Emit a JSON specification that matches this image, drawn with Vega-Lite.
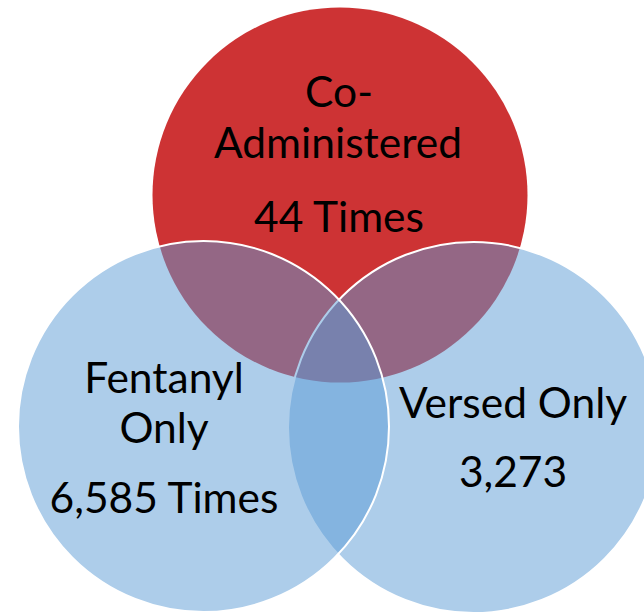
{
  "$schema": "https://vega.github.io/schema/vega-lite/v6.json",
  "width": 644,
  "height": 613,
  "autosize": "none",
  "padding": 0,
  "background": "white",
  "config": {"view": {"stroke": null}},
  "datasets": {
    "sets": [
      {"set": "Co-Administered", "cx": 340, "cy": 195, "r": 187.5},
      {"set": "Versed Only", "cx": 473.5, "cy": 427.5, "r": 185.5},
      {"set": "Fentanyl Only", "cx": 203.5, "cy": 426.5, "r": 185.5}
    ],
    "labels": [
      {"line": "Co-", "lx": 339, "ly": 107},
      {"line": "Administered", "lx": 338, "ly": 158},
      {"line": "44 Times", "lx": 339, "ly": 232},
      {"line": "Fentanyl", "lx": 164, "ly": 393},
      {"line": "Only", "lx": 164, "ly": 443},
      {"line": "6,585 Times", "lx": 164, "ly": 513},
      {"line": "Versed Only", "lx": 513, "ly": 418},
      {"line": "3,273", "lx": 513, "ly": 487}
    ]
  },
  "layer": [
    {
      "data": {"name": "sets"},
      "transform": [{"filter": "datum.set === 'Co-Administered'"}],
      "mark": {"type": "point", "shape": "circle", "filled": true, "fill": "#CD3334", "fillOpacity": 1, "strokeWidth": 0, "opacity": 1},
      "encoding": {
        "x": {"field": "cx", "type": "quantitative", "scale": {"domain": [0, 644]}, "axis": null},
        "y": {"field": "cy", "type": "quantitative", "scale": {"domain": [613, 0]}, "axis": null},
        "size": {"field": "r", "type": "quantitative", "scale": {"type": "pow", "exponent": 2, "domain": [0, 100], "range": [0, 40000]}, "legend": null}
      }
    },
    {
      "data": {"name": "sets"},
      "transform": [{"filter": "datum.set !== 'Co-Administered'"}],
      "mark": {"type": "point", "shape": "circle", "filled": true, "fill": "#5B9BD5", "fillOpacity": 0.5, "stroke": "white", "strokeWidth": 2, "strokeOpacity": 1, "opacity": 1},
      "encoding": {
        "x": {"field": "cx", "type": "quantitative", "scale": {"domain": [0, 644]}, "axis": null},
        "y": {"field": "cy", "type": "quantitative", "scale": {"domain": [613, 0]}, "axis": null},
        "size": {"field": "r", "type": "quantitative", "scale": {"type": "pow", "exponent": 2, "domain": [0, 100], "range": [0, 40000]}, "legend": null}
      }
    },
    {
      "data": {"name": "labels"},
      "mark": {"type": "text", "font": "Lato", "fontSize": 42.5, "align": "center", "baseline": "alphabetic", "color": "black"},
      "encoding": {
        "x": {"field": "lx", "type": "quantitative", "scale": {"domain": [0, 644]}, "axis": null},
        "y": {"field": "ly", "type": "quantitative", "scale": {"domain": [613, 0]}, "axis": null},
        "text": {"field": "line"}
      }
    }
  ]
}
